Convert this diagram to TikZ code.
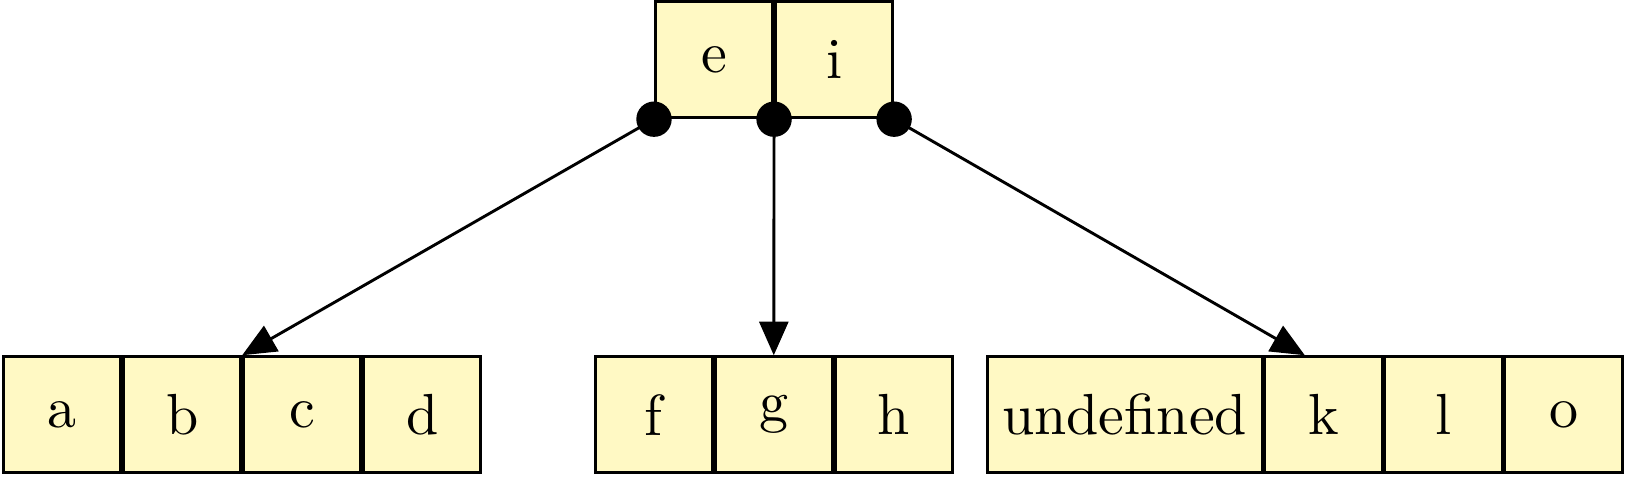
\documentclass[tikz,border=0pt]{standalone}
\usepackage{xcolor}
\usepackage{tikz}
\usetikzlibrary{arrows.meta, positioning, fit}
\definecolor{keyfill}{RGB}{255,249,196}
\tikzset{
  key/.style ={rectangle, draw, fill=keyfill, line width=0.5pt, minimum width=20.2pt, minimum height=20pt, inner sep=2.55pt},
  row/.style ={rectangle, inner sep=0pt, outer sep=0pt},
  ptr/.style ={circle, fill=black, inner sep=0pt, minimum size=6.1pt},
  fl/.style  ={-{Triangle[length=5.8pt, width=5pt]}, line width=0.5pt},
}
\begin{document}
\begin{tikzpicture}
  \useasboundingbox (0,0) rectangle (280.5pt,82.1pt);
  % root
  \node[key] (e) at (123.1pt,71.8pt) {e};
  \node[key, right=0pt of e] (i) {i};
  % leaves
  \node[key] (a) at (10.7pt,10.6pt) {a};
  \node[key, right=0pt of a] (b) {b};
  \node[key, right=0pt of b] (c) {c};
  \node[key, right=0pt of c] (d) {d};
  \node[key] (f) at (112.7pt,10.6pt) {f};
  \node[key, right=0pt of f] (g) {g};
  \node[key, right=0pt of g] (h) {h};
  \node[key] (u) at (193.9pt,10.6pt) {undefined};
  \node[key, right=0pt of u] (k) {k};
  \node[key, right=0pt of k] (l) {l};
  \node[key, right=0pt of l] (o) {o};
  \node[row, fit=(a)(d)] (leafA) {};
  \node[row, fit=(f)(h)] (leafB) {};
  \node[row, fit=(u)(o)] (leafC) {};
  % pointers
  \draw[fl] (e.south west) -- (leafA.north);
  \draw[fl] (e.south east) -- (leafB.north);
  \draw[fl] (i.south east) -- (leafC.north);
  \node[ptr] (p0) at (e.south west) {};
  \node[ptr] (p1) at (e.south east) {};
  \node[ptr] (p2) at (i.south east) {};
\end{tikzpicture}
\end{document}
